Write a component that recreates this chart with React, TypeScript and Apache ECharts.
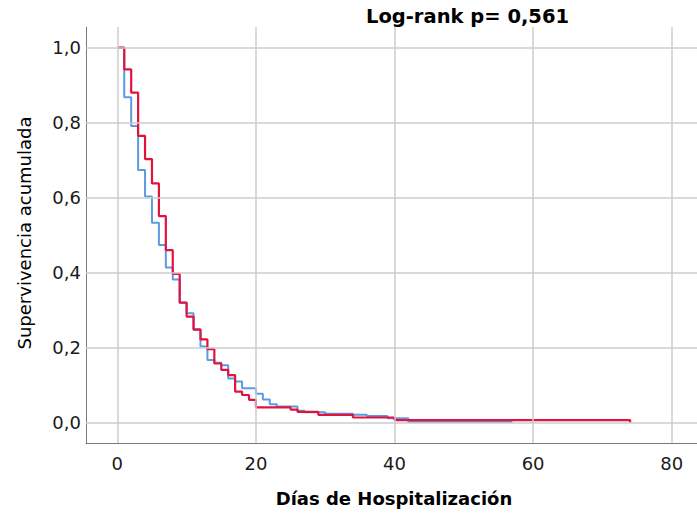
import React, { useEffect, useRef } from "react";
import * as echarts from "echarts";

// Kaplan-Meier curves (time in days, cumulative survival)
const blueTimes = [0, 1, 2, 3, 4, 5, 6, 7, 8, 9, 10, 11, 12, 13, 14, 15, 16, 17, 18, 20, 21, 22, 23, 26, 27, 30, 34, 36, 39, 42, 57];
const blueSurv = [1.0, 0.868, 0.791, 0.674, 0.603, 0.533, 0.474, 0.414, 0.382, 0.32, 0.292, 0.247, 0.203, 0.167, 0.16, 0.153, 0.118, 0.11, 0.092, 0.077, 0.062, 0.049, 0.043, 0.032, 0.028, 0.024, 0.021, 0.018, 0.012, 0.002, 0.002];

const redTimes = [0, 1, 2, 3, 4, 5, 6, 7, 8, 9, 10, 11, 12, 13, 14, 15, 16, 17, 18, 19, 20, 25, 26, 29, 34, 40, 74];
const redSurv = [1.0, 0.942, 0.88, 0.765, 0.703, 0.638, 0.551, 0.46, 0.397, 0.32, 0.283, 0.249, 0.222, 0.196, 0.158, 0.141, 0.127, 0.083, 0.074, 0.061, 0.041, 0.035, 0.029, 0.021, 0.014, 0.007, 0.0];

const xTicks = [0, 20, 40, 60, 80];
const yTicks = [0, 0.2, 0.4, 0.6, 0.8, 1.0];

const titleText = "Log-rank p= 0,561";
const xTitle = "Días de Hospitalización";
const yTitle = "Supervivencia acumulada";

const FONT = "'DejaVu Sans', sans-serif";

export default function App() {
  const ref = useRef<HTMLDivElement>(null);
  useEffect(() => {
    if (!ref.current) return;
    const chart = echarts.init(ref.current, null, { renderer: "svg" });
    const near = (v: number, arr: number[]) => arr.some((t) => Math.abs(t - v) < 1e-6);
    chart.setOption({
      animation: false,
      backgroundColor: "#ffffff",
      grid: { left: 86, right: 0, top: 27, bottom: 72, containLabel: false },
      xAxis: {
        type: "value",
        min: -4.52,
        max: 83.65,
        axisLine: { show: true, onZero: false, lineStyle: { color: "#7a7a7a", width: 1 } },
        axisTick: { show: false },
        splitLine: { show: false },
        axisLabel: {
          customValues: xTicks,
          fontSize: 18,
          fontFamily: FONT,
          color: "#1a1a1a",
          margin: 11,
          formatter: (v: number) => (near(v, xTicks) ? String(Math.round(v)) : ""),
        },
      },
      yAxis: {
        type: "value",
        min: -0.054,
        max: 1.055,
        axisLine: { show: true, onZero: false, lineStyle: { color: "#7a7a7a", width: 1 } },
        axisTick: { show: false },
        splitLine: { show: false },
        axisLabel: {
          customValues: yTicks,
          fontSize: 18,
          fontFamily: FONT,
          color: "#1a1a1a",
          margin: 5,
          formatter: (v: number) => (near(v, yTicks) ? v.toFixed(1).replace(".", ",") : ""),
        },
      },
      graphic: [
        {
          type: "text",
          left: 366,
          top: 6,
          style: { text: titleText, font: `bold 19.5px ${FONT}`, fill: "#000" },
        },
        {
          type: "text",
          x: 394,
          y: 498,
          style: {
            text: xTitle,
            font: `bold 18px ${FONT}`,
            fill: "#000",
            align: "center",
            verticalAlign: "middle",
            textAlign: "center",
            textVerticalAlign: "middle",
          },
        },
        {
          type: "text",
          x: 24,
          y: 233,
          rotation: Math.PI / 2,
          style: {
            text: yTitle,
            font: `18px ${FONT}`,
            fill: "#000",
            align: "center",
            verticalAlign: "middle",
            textAlign: "center",
            textVerticalAlign: "middle",
          },
        },
      ],
      series: [
        {
          type: "line",
          z: 1,
          data: [[0, 0]],
          symbol: "none",
          lineStyle: { opacity: 0 },
          silent: true,
          markLine: {
            silent: true,
            symbol: "none",
            label: { show: false },
            lineStyle: { color: "#cccccc", width: 1.5, type: "solid" },
            data: [...xTicks.map((v) => ({ xAxis: v })), ...yTicks.map((v) => ({ yAxis: v }))],
          },
        },
        {
          type: "line",
          z: 2,
          step: "end",
          symbol: "none",
          data: blueTimes.map((t, i) => [t, blueSurv[i]]),
          lineStyle: { color: "#5b9be2", width: 2 },
        },
        {
          type: "line",
          z: 3,
          step: "end",
          symbol: "none",
          data: redTimes.map((t, i) => [t, redSurv[i]]),
          lineStyle: { color: "#e0143f", width: 2.2 },
        },
      ],
    });
    return () => chart.dispose();
  }, []);
  return <div ref={ref} style={{ width: 697, height: 515, position: "absolute", left: 0, top: 0 }} />;
}
